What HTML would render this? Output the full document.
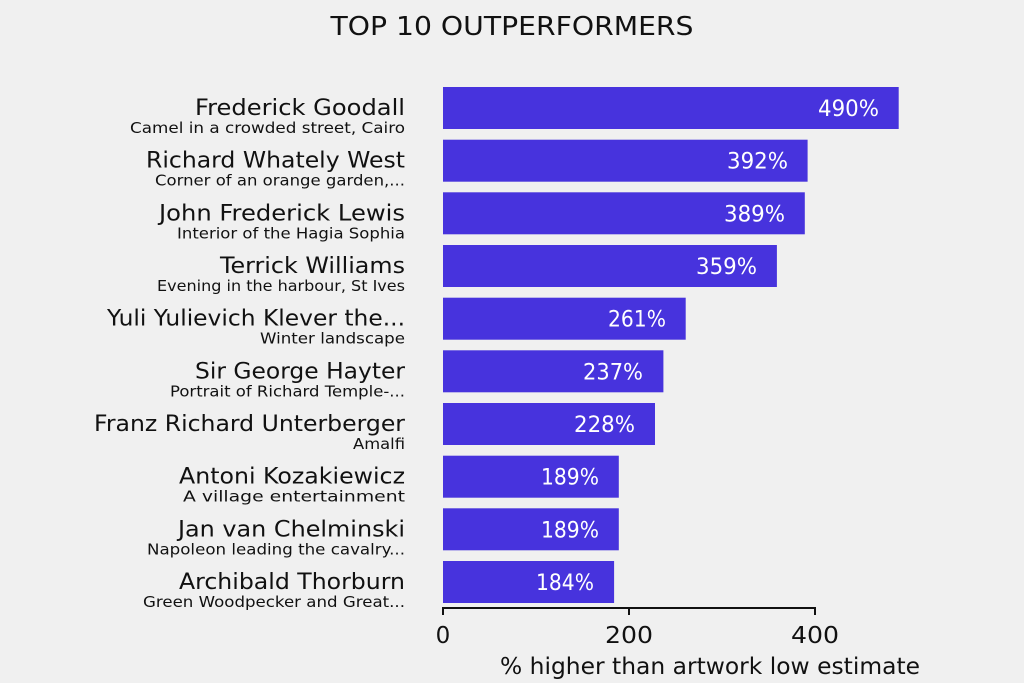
<!DOCTYPE html>
<html><head><meta charset="utf-8"><style>
html,body{margin:0;padding:0;background:#f0f0f0;}
svg{display:block;font-family:"DejaVu Sans","Liberation Sans",sans-serif;}
</style></head><body>
<svg width="1024" height="683" viewBox="0 0 1024 683" xmlns="http://www.w3.org/2000/svg">
<rect width="1024" height="683" fill="#f0f0f0"/>
<text x="512" y="35" text-anchor="middle" font-size="26" fill="#111" textLength="363" lengthAdjust="spacingAndGlyphs">TOP 10 OUTPERFORMERS</text>
<g>
<rect x="443" y="87" width="455.7" height="42" fill="#4733dd"/>
<rect x="443" y="139.7" width="364.6" height="42" fill="#4733dd"/>
<rect x="443" y="192.3" width="361.8" height="42" fill="#4733dd"/>
<rect x="443" y="245" width="333.9" height="42" fill="#4733dd"/>
<rect x="443" y="297.7" width="242.7" height="42" fill="#4733dd"/>
<rect x="443" y="350.3" width="220.4" height="42" fill="#4733dd"/>
<rect x="443" y="403" width="212" height="42" fill="#4733dd"/>
<rect x="443" y="455.7" width="175.8" height="42" fill="#4733dd"/>
<rect x="443" y="508.3" width="175.8" height="42" fill="#4733dd"/>
<rect x="443" y="561" width="171.1" height="42" fill="#4733dd"/>
</g>
<g font-size="22" fill="#fff" text-anchor="end">
<text x="879" y="116" textLength="61" lengthAdjust="spacingAndGlyphs">490%</text>
<text x="788" y="168.7" textLength="61" lengthAdjust="spacingAndGlyphs">392%</text>
<text x="785" y="221.3" textLength="61" lengthAdjust="spacingAndGlyphs">389%</text>
<text x="757" y="274" textLength="61" lengthAdjust="spacingAndGlyphs">359%</text>
<text x="666" y="326.7" textLength="58" lengthAdjust="spacingAndGlyphs">261%</text>
<text x="643" y="379.3" textLength="60" lengthAdjust="spacingAndGlyphs">237%</text>
<text x="635" y="432" textLength="61" lengthAdjust="spacingAndGlyphs">228%</text>
<text x="599" y="484.7" textLength="58" lengthAdjust="spacingAndGlyphs">189%</text>
<text x="599" y="537.3" textLength="58" lengthAdjust="spacingAndGlyphs">189%</text>
<text x="594" y="590" textLength="58" lengthAdjust="spacingAndGlyphs">184%</text>
</g>
<g fill="#111" text-anchor="end">
<g font-size="22">
<text x="405" y="115" textLength="210" lengthAdjust="spacingAndGlyphs">Frederick Goodall</text>
<text x="405" y="167.7" textLength="259" lengthAdjust="spacingAndGlyphs">Richard Whately West</text>
<text x="405" y="220.3" textLength="246" lengthAdjust="spacingAndGlyphs">John Frederick Lewis</text>
<text x="405" y="273" textLength="185" lengthAdjust="spacingAndGlyphs">Terrick Williams</text>
<text x="405" y="325.7" textLength="298" lengthAdjust="spacingAndGlyphs">Yuli Yulievich Klever the...</text>
<text x="405" y="378.3" textLength="210" lengthAdjust="spacingAndGlyphs">Sir George Hayter</text>
<text x="405" y="431" textLength="311" lengthAdjust="spacingAndGlyphs">Franz Richard Unterberger</text>
<text x="405" y="483.7" textLength="226" lengthAdjust="spacingAndGlyphs">Antoni Kozakiewicz</text>
<text x="405" y="536.3" textLength="227" lengthAdjust="spacingAndGlyphs">Jan van Chelminski</text>
<text x="405" y="589" textLength="226" lengthAdjust="spacingAndGlyphs">Archibald Thorburn</text>
</g>
<g font-size="15">
<text x="405" y="133" textLength="275" lengthAdjust="spacingAndGlyphs">Camel in a crowded street, Cairo</text>
<text x="405" y="185.7" textLength="250" lengthAdjust="spacingAndGlyphs">Corner of an orange garden,...</text>
<text x="405" y="238.3" textLength="228" lengthAdjust="spacingAndGlyphs">Interior of the Hagia Sophia</text>
<text x="405" y="291" textLength="248" lengthAdjust="spacingAndGlyphs">Evening in the harbour, St Ives</text>
<text x="405" y="343.7" textLength="145" lengthAdjust="spacingAndGlyphs">Winter landscape</text>
<text x="405" y="396.3" textLength="235" lengthAdjust="spacingAndGlyphs">Portrait of Richard Temple-...</text>
<text x="405" y="449" textLength="52" lengthAdjust="spacingAndGlyphs">Amalfi</text>
<text x="405" y="501.7" textLength="222" lengthAdjust="spacingAndGlyphs">A village entertainment</text>
<text x="405" y="554.3" textLength="258" lengthAdjust="spacingAndGlyphs">Napoleon leading the cavalry...</text>
<text x="405" y="607" textLength="262" lengthAdjust="spacingAndGlyphs">Green Woodpecker and Great...</text>
</g>
</g>
<g stroke="#111" stroke-width="2" fill="none">
<line x1="443" y1="608" x2="815" y2="608"/>
<line x1="443" y1="607" x2="443" y2="615"/>
<line x1="629" y1="607" x2="629" y2="615"/>
<line x1="815" y1="607" x2="815" y2="615"/>
</g>
<g font-size="23" fill="#111" text-anchor="middle">
<text x="443" y="643">0</text>
<text x="629" y="643" textLength="48" lengthAdjust="spacingAndGlyphs">200</text>
<text x="815" y="643" textLength="48" lengthAdjust="spacingAndGlyphs">400</text>
<text x="710" y="674" textLength="420" lengthAdjust="spacingAndGlyphs">% higher than artwork low estimate</text>
</g>
</svg>
</body></html>
